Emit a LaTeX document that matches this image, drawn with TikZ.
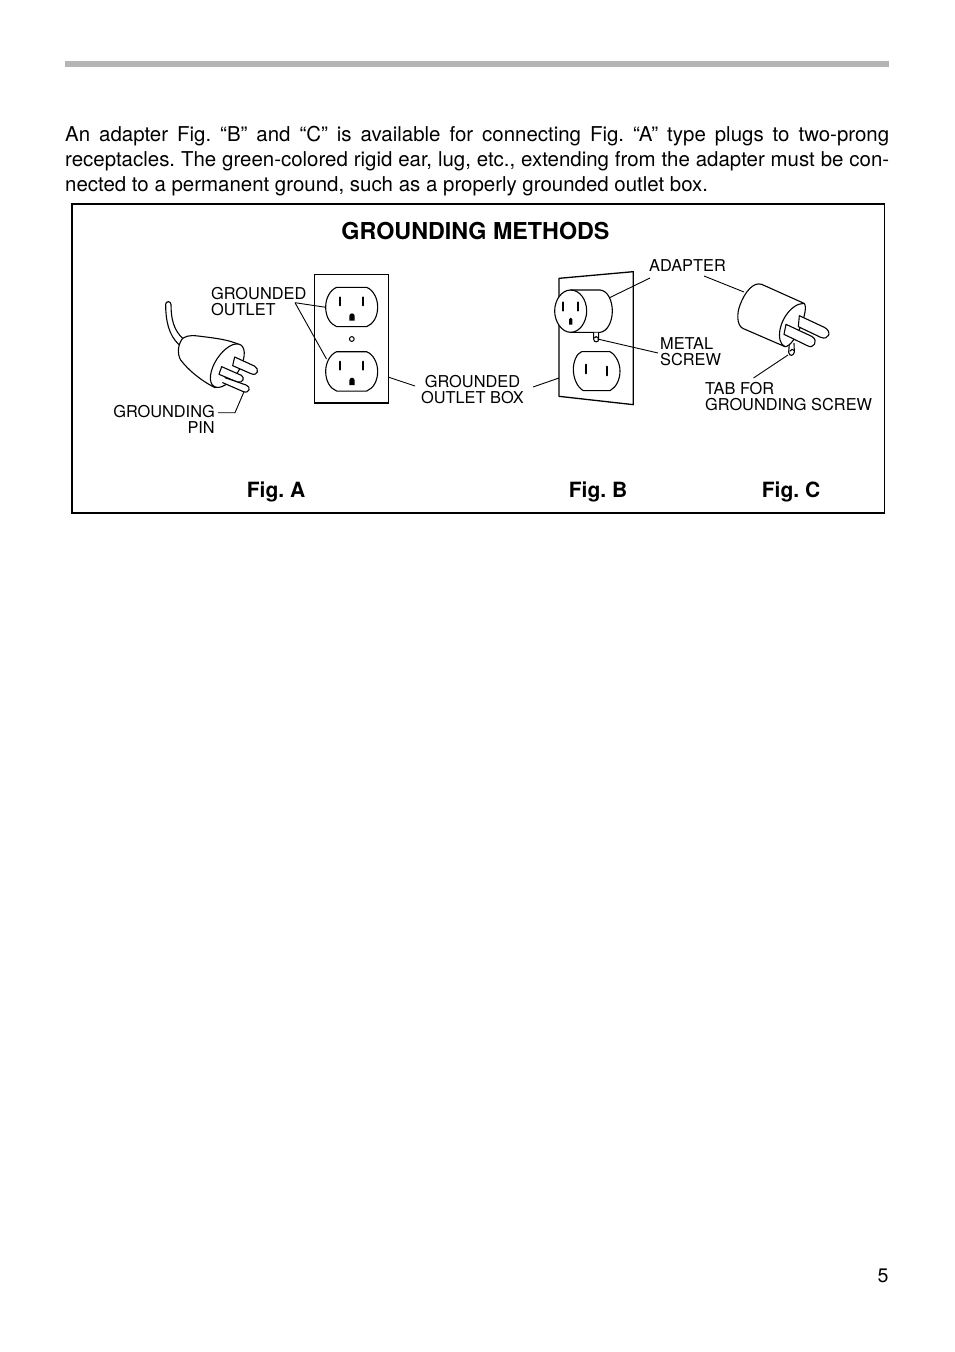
\documentclass[tikz,border=0pt]{standalone}
\usepackage{fontspec}
\setmainfont{TeX Gyre Heros}
\frenchspacing
\tikzset{
  ink/.style={draw=black,line width=1.1pt,line cap=round,line join=round},
  thinink/.style={draw=black,line width=1pt,line cap=round,line join=round},
  solid fill/.style={ink,fill=white},
  leader/.style={draw=black,line width=0.9pt},
  callout/.style={inner sep=0pt,font=\fontsize{16.35}{16}\selectfont},
  figlabel/.style={inner sep=0pt,anchor=base,font=\fontsize{21}{20}\selectfont\bfseries},
  slot/.style={draw=black,line width=2pt,line cap=round}
}
\newcommand{\outletshape}[2]{%
  \begin{scope}[shift={(#1,#2)},x=0.3333pt,y=-0.3333pt]
    \path[ink] (50,22) -- (140,22) .. controls (160,30) and (173,55) .. (173,81) .. controls (173,110) and (160,132) .. (140,140) -- (50,140) .. controls (30,132) and (17,110) .. (17,81) .. controls (17,55) and (30,30) .. (50,22) -- cycle;
    \draw[slot] (60,52) -- (60,76);
    \draw[slot] (128,52) -- (128,76);
    \fill[black] (88,122) -- (88,108) arc[start angle=180,end angle=360,radius=8] -- (104,122) -- cycle;
  \end{scope}}
\begin{document}
\begin{tikzpicture}[x=1pt,y=-1pt]
\useasboundingbox (0,0) rectangle (954,1352);
\fill[white] (0,0) rectangle (954,1352);
% top rule
\fill[black!29] (65,61) rectangle (889,67);
% paragraph
\node[anchor=north west,inner sep=0pt,text width=824pt,font=\fontsize{20.45}{25}\selectfont,align=justify] (para) at (65,126.3)
 {An adapter Fig. “B” and “C” is available for connecting Fig. “A” type plugs to two-prong\linebreak
  receptacles. The green-colored rigid ear, lug, etc., extending from the adapter must be con-\linebreak
  nected to a permanent ground, such as a properly grounded outlet box.};
% frame
\node[draw=black,line width=1.6pt,outer sep=0pt,minimum width=812.5pt,minimum height=309pt,inner sep=0pt,anchor=north west] (frame) at (72,204) {};
\node[inner sep=0pt,font=\fontsize{23.3}{24}\selectfont\bfseries] (title) at (475.5,231) {GROUNDING METHODS};
% Fig A: plate with two outlets
\node[draw=black,line width=1.2pt,outer sep=0pt,minimum width=73.7pt,minimum height=128.3pt,inner sep=0pt,anchor=north west] (plateA) at (314.5,274.7) {};
\outletshape{320}{280}
\outletshape{320}{344.4}
\draw[thinink] (351.8,339) circle (2.4);
\coordinate (outU) at (325.7,307.3);
\coordinate (outL) at (326.5,359);
% Fig A plug
\begin{scope}[shift={(160,295)},x=0.3333pt,y=-0.3333pt]
  \path[ink] (17,28) arc[start angle=180,end angle=360,radius=8] .. controls (33,70) and (40,105) .. (70,132);
  \path[ink] (17,28) .. controls (17,75) and (25,120) .. (58,150);
  \path[solid fill] (68,130) .. controls (85,118) and (105,122) .. (130,125) .. controls (170,130) and (210,135) .. (240,150) .. controls (250,175) and (200,270) .. (165,278) .. controls (120,255) and (85,225) .. (62,195) .. controls (50,175) and (55,145) .. (68,130) -- cycle;
  \path[ink,fill=white,rotate around={57:(202,212)}] (202,212) ellipse[x radius=74,y radius=37];
  \path[solid fill] (224,186) -- (283,213) .. controls (300,222) and (293,245) .. (273,236) -- (218,212) -- cycle;
  \path[solid fill] (185,215) -- (244,241) .. controls (255,248) and (250,265) .. (232,261) -- (177,238) -- cycle;
  \path[solid fill] (195,248) -- (258,270) .. controls (275,275) and (268,297) .. (250,290) -- (188,263);
\end{scope}
\coordinate (pinTip) at (244,391.7);
\coordinate (pinBend) at (235,412.7);
% Fig B
\begin{scope}[shift={(550,270)},x=0.3333pt,y=-0.3333pt]
  \path[ink,line width=1.3pt] (27,25) -- (250,5) -- (250,404) -- (27,379) -- cycle;
  \path[solid fill] (62,60) -- (150,60) .. controls (175,62) and (187,95) .. (187,123) .. controls (187,155) and (172,185) .. (150,187) -- (62,187) .. controls (35,187) and (14,155) .. (14,123) .. controls (14,90) and (35,60) .. (62,60) -- cycle;
  \path[ink] (62,60) .. controls (90,60) and (110,90) .. (110,123) .. controls (110,155) and (90,187) .. (62,187);
  \draw[slot] (40,97) -- (40,122);
  \draw[slot] (83,97) -- (83,122);
  \fill[black] (57,164) -- (57,148) arc[start angle=180,end angle=360,radius=5] -- (67,164) -- cycle;
  \path[solid fill] (131,188) -- (131,208) .. controls (132,218) and (146,218) .. (146,208) -- (146,188);
  \path[ink] (133,204) .. controls (134,198) and (143,198) .. (144,204);
  \path[ink] (95,245) -- (180,245) .. controls (198,255) and (210,280) .. (210,303) .. controls (210,330) and (198,352) .. (180,362) -- (100,362) .. controls (82,352) and (70,325) .. (70,298) .. controls (70,275) and (80,250) .. (95,245) -- cycle;
  \draw[slot] (107,284) -- (107,310);
  \draw[slot] (171,290) -- (171,316);
\end{scope}
\coordinate (adB) at (610,297.5);
\coordinate (screwB) at (597.5,339);
\coordinate (plateBL) at (559,378);
% Fig C
\begin{scope}[shift={(730,275)},x=0.3333pt,y=-0.3333pt]
  \path[solid fill] (178,205) -- (176,232) .. controls (178,245) and (190,243) .. (193,232) -- (192,205);
  \path[ink] (180,228) .. controls (182,222) and (190,222) .. (192,226);
  \path[solid fill] (95,28) -- (222,85) .. controls (240,100) and (195,215) .. (165,215) -- (38,160) .. controls (20,150) and (20,115) .. (30,90) .. controls (45,50) and (70,20) .. (95,28) -- cycle;
  \path[ink] (222,85) .. controls (180,85) and (140,150) .. (150,195) .. controls (152,205) and (158,212) .. (165,215);
  \path[solid fill] (208,122) -- (283,157) .. controls (308,170) and (296,197) .. (272,187) -- (205,155) -- cycle;
  \path[solid fill] (168,148) -- (245,184) .. controls (268,197) and (250,224) .. (232,212) -- (162,178) -- cycle;
\end{scope}
\coordinate (adC) at (744,292);
\coordinate (tabC) at (788,355);
% labels
\node[callout,anchor=west,align=left] (lblOutlet) at (211,301.5) {GROUNDED\\OUTLET};
\coordinate (apex) at (295,302.7);
\node[callout,anchor=east,align=right] (lblPin) at (215,419.5) {GROUNDING\\PIN};
\node[callout,align=center] (lblBox) at (472.5,390) {GROUNDED\\OUTLET BOX};
\node[callout] (lblAdapter) at (687.5,265.5) {ADAPTER};
\node[callout,anchor=west,align=left] (lblScrew) at (660,351.5) {METAL\\SCREW};
\node[callout,anchor=west,align=left] (lblTab) at (705,396.5) {TAB FOR\\GROUNDING SCREW};
\node[figlabel] (figA) at (276,497) {Fig. A};
\node[figlabel] (figB) at (598,497) {Fig. B};
\node[figlabel] (figC) at (791,497) {Fig. C};
\node[inner sep=0pt,font=\fontsize{19.6}{22}\selectfont] (page) at (883,1276) {5};
% free leader ends
\coordinate (boxLa) at (415,386);
\coordinate (boxLb) at (388,377);
\coordinate (boxRa) at (533,387);
\coordinate (adB2) at (650,278);
\coordinate (adC2) at (704,276);
\coordinate (scr2) at (658,353);
\coordinate (tab2) at (753.5,378);
\coordinate (pinStart) at (218,412.7);
% leaders
\draw[leader] (apex) -- (outU);
\draw[leader] (apex) -- (outL);
\draw[leader] (pinStart) -- (pinBend) -- (pinTip);
\draw[leader] (boxLa) -- (boxLb);
\draw[leader] (boxRa) -- (plateBL);
\draw[leader] (adB) -- (adB2);
\draw[leader] (adC2) -- (adC);
\draw[leader] (screwB) -- (scr2);
\draw[leader] (tabC) -- (tab2);
\end{tikzpicture}
\end{document}
